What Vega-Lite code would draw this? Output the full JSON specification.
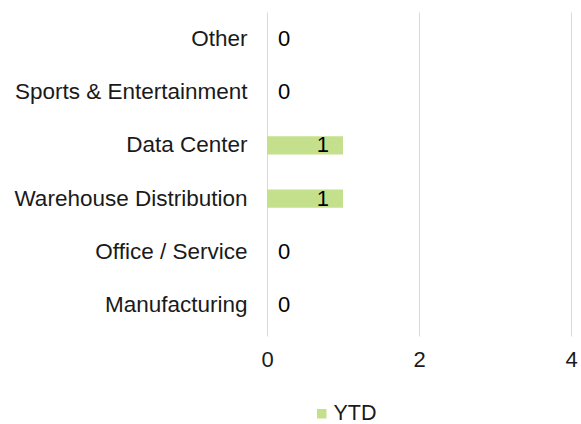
{
  "$schema": "https://vega.github.io/schema/vega-lite/v6.json",
  "autosize": {"type": "none"},
  "padding": {"left": 267, "top": 12, "right": 10, "bottom": 92},
  "width": 304,
  "height": 320,
  "background": "white",
  "config": {
    "font": "Liberation Sans",
    "view": {"stroke": null}
  },
  "data": {
    "values": [
      {"category": "Other", "value": 0, "series": "YTD"},
      {"category": "Sports & Entertainment", "value": 0, "series": "YTD"},
      {"category": "Data Center", "value": 1, "series": "YTD"},
      {"category": "Warehouse Distribution", "value": 1, "series": "YTD"},
      {"category": "Office / Service", "value": 0, "series": "YTD"},
      {"category": "Manufacturing", "value": 0, "series": "YTD"}
    ]
  },
  "encoding": {
    "y": {
      "field": "category",
      "type": "nominal",
      "sort": null,
      "scale": {"paddingInner": 0.66, "paddingOuter": 0.33},
      "axis": {
        "title": null,
        "domain": false,
        "ticks": false,
        "labelFontSize": 22.5,
        "labelColor": "#1a1a1a",
        "labelPadding": 20,
        "labelLimit": 300
      }
    },
    "x": {
      "field": "value",
      "type": "quantitative",
      "scale": {"domain": [0, 4], "nice": false},
      "axis": {
        "title": null,
        "values": [0, 2, 4],
        "grid": true,
        "gridColor": "#d9d9d9",
        "gridWidth": 1,
        "domain": false,
        "ticks": true,
        "tickColor": "#d9d9d9",
        "tickSize": 4,
        "labelFontSize": 22,
        "labelColor": "#1a1a1a",
        "labelPadding": 13,
        "labelFlush": false
      }
    }
  },
  "layer": [
    {
      "mark": {"type": "bar"},
      "encoding": {
        "color": {
          "field": "series",
          "type": "nominal",
          "scale": {"range": ["#c5e08c"]},
          "legend": {
            "title": null,
            "orient": "none",
            "legendX": 44,
            "legendY": 391,
            "symbolType": "square",
            "symbolSize": 90,
            "labelFontSize": 21.5,
            "labelColor": "#1a1a1a",
            "labelOffset": 1
          }
        }
      }
    },
    {
      "transform": [{"filter": "datum.value > 0"}],
      "mark": {"type": "text", "align": "right", "dx": -14, "fontSize": 22, "color": "#000000"},
      "encoding": {"text": {"field": "value", "type": "quantitative"}}
    },
    {
      "transform": [{"filter": "datum.value == 0"}],
      "mark": {"type": "text", "align": "left", "dx": 11, "fontSize": 22, "color": "#000000"},
      "encoding": {"text": {"field": "value", "type": "quantitative"}}
    }
  ]
}
